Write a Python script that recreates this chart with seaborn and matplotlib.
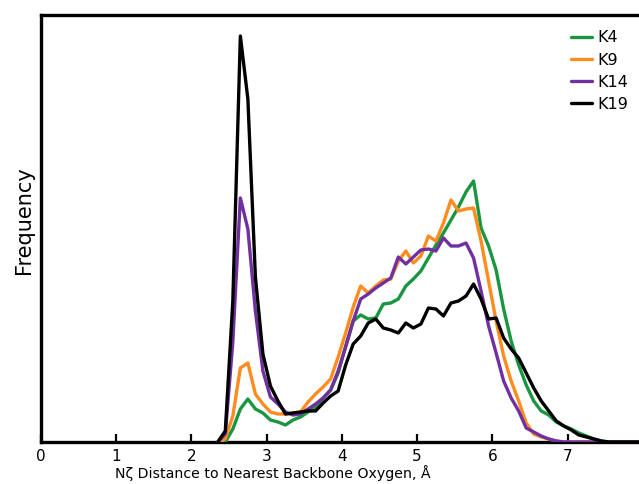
import numpy as np
import pandas as pd
import matplotlib
matplotlib.use("Agg")
import matplotlib.pyplot as plt
import seaborn as sns

# bin centres (Å)
distance = [round(2.35 + 0.1 * i, 2) for i in range(57)]  # 2.35 .. 7.95

k4 = [0, 0, 13, 33, 43, 33, 29, 22, 20, 17, 22, 25, 30, 35, 44,
      52, 69, 96, 121, 127, 123, 124, 138, 139, 143, 156, 163, 171, 184, 197,
      209, 222, 235, 250, 261, 214, 196, 172, 133, 101, 77, 57, 41, 31, 27,
      20, 16, 13, 9, 6, 3, 1, 0, 0, 0, 0, 0]
k9 = [0, 3, 26, 74, 79, 48, 38, 30, 28, 28, 29, 30, 40, 48, 55,
      63, 85, 109, 135, 156, 149, 156, 162, 163, 181, 191, 179, 186, 206, 201,
      219, 242, 231, 233, 234, 201, 161, 121, 86, 61, 41, 19, 8, 5, 3,
      1, 0, 0, 0, 0, 0, 0, 0, 0, 0, 0, 0]
k14 = [0, 8, 100, 244, 213, 131, 71, 45, 38, 30, 27, 28, 33, 38, 44,
       52, 71, 95, 121, 143, 148, 154, 159, 164, 185, 178, 185, 192, 193, 191,
       204, 196, 196, 199, 184, 151, 116, 89, 61, 44, 31, 14, 10, 6, 3,
       1, 0, 0, 0, 0, 0, 0, 0, 0, 0, 0, 0]
k19 = [0, 11, 141, 406, 343, 165, 88, 56, 41, 28, 29, 30, 31, 31, 39,
       46, 51, 77, 98, 106, 119, 123, 114, 112, 109, 119, 114, 118, 134, 133,
       126, 139, 141, 146, 158, 143, 123, 124, 104, 93, 84, 69, 54, 41, 31,
       21, 16, 12, 7, 5, 3, 1, 0, 0, 0, 0, 0]

series_names = ["K4", "K9", "K14", "K19"]
colors = ["#1a9641", "#ff8c1f", "#7030a0", "#000000"]
x_ticks = [0, 1, 2, 3, 4, 5, 6, 7]

df = pd.concat([
    pd.DataFrame({"distance": distance, "freq": vals, "residue": name})
    for name, vals in zip(series_names, [k4, k9, k14, k19])
], ignore_index=True)

sns.set_style("white")
plt.rcParams["font.family"] = ["DejaVu Sans"]
plt.rcParams["text.color"] = "black"
plt.rcParams["axes.labelcolor"] = "black"
plt.rcParams["xtick.color"] = "black"

W, H = 639, 484
fig = plt.figure(figsize=(W / 100, H / 100), dpi=100)
ax = fig.add_axes([41 / W, (484 - 442) / H, (W - 41) / W, (442 - 15) / H])

sns.lineplot(data=df, x="distance", y="freq", hue="residue",
             hue_order=series_names, palette=colors, linewidth=2.4,
             ax=ax, legend=True, zorder=3)

ax.set_xlim(0, (639 - 42) / 75.1)
ax.set_ylim(0, 427)
ax.set_xticks(x_ticks)
ax.set_xticklabels([str(t) for t in x_ticks], fontsize=11)
ax.set_yticks([])
ax.tick_params(axis="x", direction="in", length=6, width=1.6, pad=5,
               bottom=True, top=False, colors="black")
for side in ["left", "bottom", "top", "right"]:
    ax.spines[side].set_linewidth(2.4)
    ax.spines[side].set_color("black")
ax.spines["right"].set_visible(False)

ax.set_xlabel("Nζ Distance to Nearest Backbone Oxygen, Å", fontsize=10.2)
ax.xaxis.set_label_coords((273 - 41) / (W - 41), -0.055)
ax.set_ylabel("Frequency", fontsize=15)
ax.yaxis.set_label_coords(-0.011, 0.52)

leg = ax.legend(loc="upper right", frameon=False, fontsize=11.5,
                handlelength=1.3, handletextpad=0.3, labelspacing=0.45,
                bbox_to_anchor=(1.0, 0.99), borderaxespad=0.3)
for line in leg.get_lines():
    line.set_linewidth(2.4)

fig.savefig("out.png", dpi=100)
